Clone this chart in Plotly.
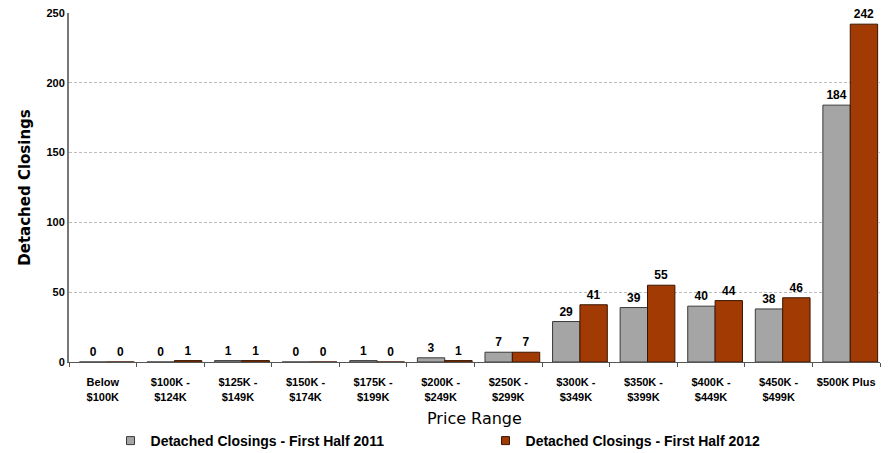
import plotly.graph_objects as go

# Price ranges and detached closings per half-year
categories = ["Below<br>$100K", "$100K -<br>$124K", "$125K -<br>$149K", "$150K -<br>$174K",
              "$175K -<br>$199K", "$200K -<br>$249K", "$250K -<br>$299K", "$300K -<br>$349K",
              "$350K -<br>$399K", "$400K -<br>$449K", "$450K -<br>$499K", "$500K Plus"]
closings_2011 = [0, 0, 1, 0, 1, 3, 7, 29, 39, 40, 38, 184]
closings_2012 = [0, 1, 1, 0, 0, 1, 7, 41, 55, 44, 46, 242]
y_ticks = [0, 50, 100, 150, 200, 250]

series_names = ["Detached Closings - First Half 2011", "Detached Closings - First Half 2012"]
fill_colors = ["#A5A5A5", "#A23A04"]
edge_colors = ["#3a3a3a", "#3a1500"]
BAR_W = 0.405
bar_offsets = [-0.345, -0.345 + BAR_W]

FONT = "Liberation Sans, Arial, sans-serif"
WIDE = "DejaVu Sans, Verdana, sans-serif"

fig = go.Figure()
for name, vals, fill, edge, off in zip(series_names, [closings_2011, closings_2012],
                                       fill_colors, edge_colors, bar_offsets):
    fig.add_trace(go.Bar(
        x=categories, y=vals, name=name, showlegend=False,
        width=BAR_W, offset=off,
        marker=dict(color=fill, line=dict(color=edge, width=1)),
        text=[str(v) for v in vals], textposition="outside",
        textfont=dict(family=FONT, size=12, color="#000000", weight="bold"),
        cliponaxis=False,
    ))
# Small square legend keys
for name, fill, edge in zip(series_names, fill_colors, edge_colors):
    fig.add_trace(go.Scatter(
        x=[None], y=[None], mode="markers", name=name,
        marker=dict(symbol="square", size=8, color=fill, line=dict(color=edge, width=1)),
    ))

fig.update_layout(
    width=893, height=453,
    margin=dict(l=69, r=13, t=13, b=91),
    paper_bgcolor="white", plot_bgcolor="white",
    barmode="group",
    font=dict(family=FONT, color="#000000"),
    showlegend=True,
    legend=dict(orientation="h", xref="container", yref="container",
                x=0.5437, xanchor="center", y=1 - 441 / 453, yanchor="middle",
                entrywidth=330, itemwidth=30,
                font=dict(family=FONT, size=14, weight="bold"),
                traceorder="normal"),
)
# x-axis title placed below the two-line tick labels
fig.add_annotation(
    text="Price Range", xref="paper", yref="paper", x=0.5, y=-0.1605,
    xanchor="center", yanchor="middle", showarrow=False,
    font=dict(family=WIDE, size=16, color="#000000"),
)
fig.update_xaxes(
    showline=True, linecolor="#555555", linewidth=1,
    ticks="outside", tickson="boundaries", ticklen=4, tickcolor="#555555",
    tickangle=0, automargin=False, ticklabelstandoff=10,
    tickfont=dict(family=FONT, size=11, weight="bold"),
)
fig.update_yaxes(
    range=[0, 250], tickvals=y_ticks, automargin=False,
    showline=True, linecolor="#777777", linewidth=2,
    showgrid=True, gridcolor="#BDBDBD", griddash="3px,2px", gridwidth=1,
    zeroline=False, ticks="",
    tickfont=dict(family=FONT, size=11, weight="bold"),
    title=dict(text="Detached Closings", font=dict(family=WIDE, size=15, weight="bold"), standoff=12),
)

fig.write_html("out.html")
